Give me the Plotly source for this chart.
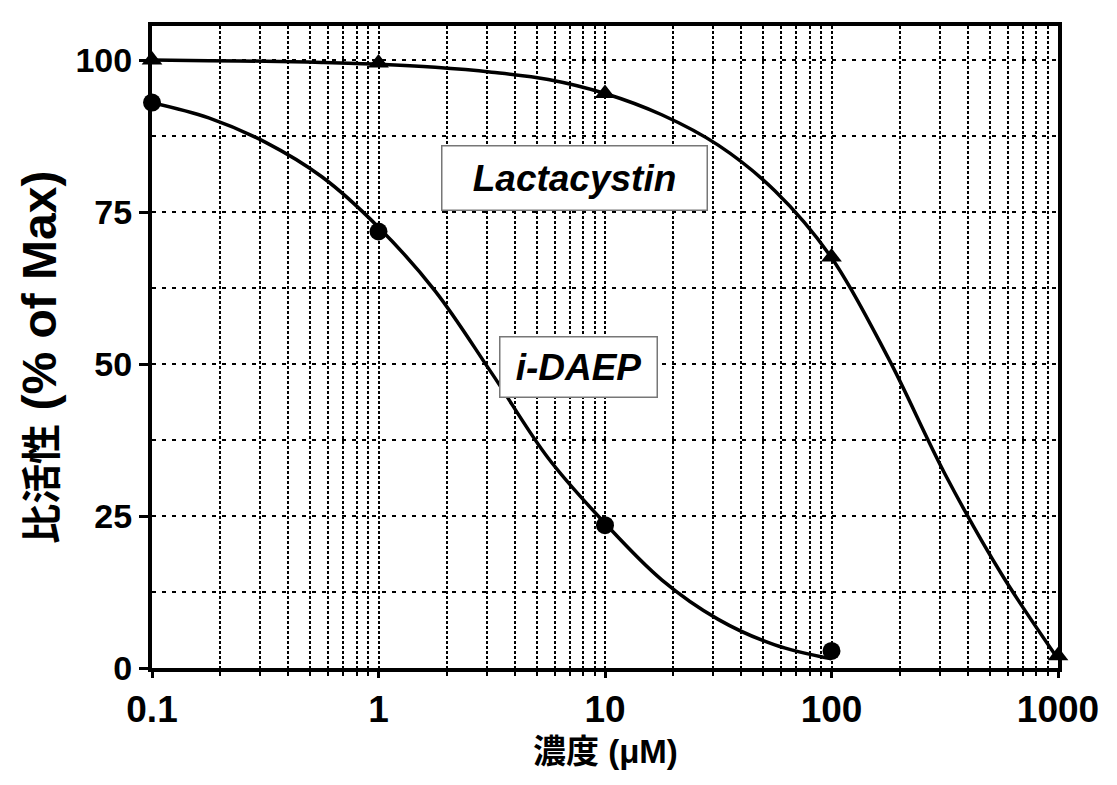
import plotly.graph_objects as go

# ---- data ----
conc_lacta = [0.1, 1, 10, 100, 1000]
lacta_points = [100.0, 99.5, 94.5, 67.6, 2.0]
conc_idaep = [0.1, 1, 10, 100]
idaep_points = [93.0, 71.8, 23.5, 2.8]

# fitted curves at quarter-decade steps
curve_x = [0.1, 0.178, 0.316, 0.562, 1, 1.78, 3.16, 5.62, 10, 17.8, 31.6, 56.2, 100, 178, 316, 562, 1000]
lacta_curve_y = [100, 99.9, 99.8, 99.6, 99.3, 98.8, 98.0, 96.8, 94.5, 91, 86, 78.5, 67.5, 51, 32, 15.5, 1.5]
idaep_curve_x = [0.1, 0.178, 0.316, 0.562, 1, 1.78, 3.16, 5.62, 10, 17.8, 31.6, 56.2, 100]
idaep_curve_y = [93, 90.5, 86.5, 80.8, 72.5, 62, 48.5, 34.5, 23.8, 14.5, 8, 3.8, 1.5]

x_tickvals = [0.1, 1, 10, 100, 1000]
x_ticktext = ["0.1", "1", "10", "100", "1000"]
y_tickvals = [0, 25, 50, 75, 100]
y_ticktext = ["0", "25", "50", "75", "100"]

series_labels = ["Lactacystin", "i-DAEP"]
x_title = "濃度 (μM)"
y_title_cjk = "比活性"
y_title_latin = " (% of Max)"

minor_x = [m * 10 ** e for e in range(-1, 3) for m in range(2, 10)]

FONT = "Liberation Sans, Arial, Helvetica, Noto Sans CJK JP, sans-serif"

fig = go.Figure()
fig.add_trace(go.Scatter(x=curve_x, y=lacta_curve_y, mode="lines",
                         line=dict(color="black", width=3.5, shape="spline", smoothing=1),
                         cliponaxis=False, showlegend=False, hoverinfo="skip"))
fig.add_trace(go.Scatter(x=idaep_curve_x, y=idaep_curve_y, mode="lines",
                         line=dict(color="black", width=3.5, shape="spline", smoothing=1),
                         cliponaxis=False, showlegend=False, hoverinfo="skip"))
fig.add_trace(go.Scatter(x=conc_lacta, y=lacta_points, mode="markers", name=series_labels[0],
                         marker=dict(symbol="triangle-up", size=18, color="black"),
                         cliponaxis=False, showlegend=False))
fig.add_trace(go.Scatter(x=conc_idaep, y=idaep_points, mode="markers", name=series_labels[1],
                         marker=dict(symbol="circle", size=18, color="black"),
                         cliponaxis=False, showlegend=False))

fig.update_layout(
    width=1117, height=785,
    margin=dict(l=152, r=59, t=26, b=117),
    paper_bgcolor="white", plot_bgcolor="white",
    font=dict(family=FONT, color="black"),
    xaxis=dict(
        type="log", range=[-1, 3],
        showline=True, linewidth=4, linecolor="black", mirror=True,
        tickmode="array", tickvals=x_tickvals, ticktext=x_ticktext,
        ticks="outside", ticklen=6, tickwidth=3, tickcolor="black",
        tickfont=dict(size=37, family=FONT, weight="bold"),
        showgrid=True, gridcolor="black", gridwidth=2, griddash="3px,2px",
        minor=dict(tickmode="array", tickvals=minor_x, showgrid=True,
                   gridcolor="black", gridwidth=2, griddash="3px,2px",
                   ticks="outside", ticklen=4, tickwidth=2, tickcolor="black"),
        zeroline=False,
    ),
    yaxis=dict(
        range=[0, 105.6],
        showline=True, linewidth=4, linecolor="black", mirror=True,
        tickmode="array", tickvals=y_tickvals, ticktext=y_ticktext,
        ticks="outside", ticklen=9, tickwidth=3, tickcolor="black",
        tickfont=dict(size=34, family=FONT, weight="bold"),
        showgrid=True, gridcolor="black", gridwidth=2, griddash="4px,6px",
        minor=dict(dtick=12.5, showgrid=True, gridcolor="black", gridwidth=2,
                   griddash="4px,6px", ticks=""),
        zeroline=False,
    ),
)

# series labels in boxes
fig.add_annotation(x=0.8675, y=80.6, xref="x", yref="y",
                   text="<b><i>" + series_labels[0] + "</i></b>", showarrow=False,
                   font=dict(size=37, family=FONT, color="black"),
                   bgcolor="white", bordercolor="#777777", borderwidth=1.5, borderpad=0,
                   width=264, height=63)
fig.add_annotation(x=0.885, y=49.5, xref="x", yref="y",
                   text="<b><i>" + series_labels[1] + "</i></b>", showarrow=False,
                   font=dict(size=37, family=FONT, color="black"),
                   bgcolor="white", bordercolor="#777777", borderwidth=1.5, borderpad=0,
                   width=156, height=59)

# axis titles
fig.add_annotation(x=0.5, y=-0.1308, xref="paper", yref="paper",
                   text="<b>" + x_title + "</b>", showarrow=False,
                   xanchor="center", yanchor="middle",
                   font=dict(size=33, family=FONT, color="black"))
fig.add_annotation(x=-0.1236, y=0.483, xref="paper", yref="paper",
                   text='<b><span style="font-size:40px">' + y_title_cjk + '</span>' + y_title_latin + "</b>",
                   showarrow=False, textangle=-90,
                   xanchor="center", yanchor="middle",
                   font=dict(size=48, family=FONT, color="black"))

fig.write_html("out.html")
